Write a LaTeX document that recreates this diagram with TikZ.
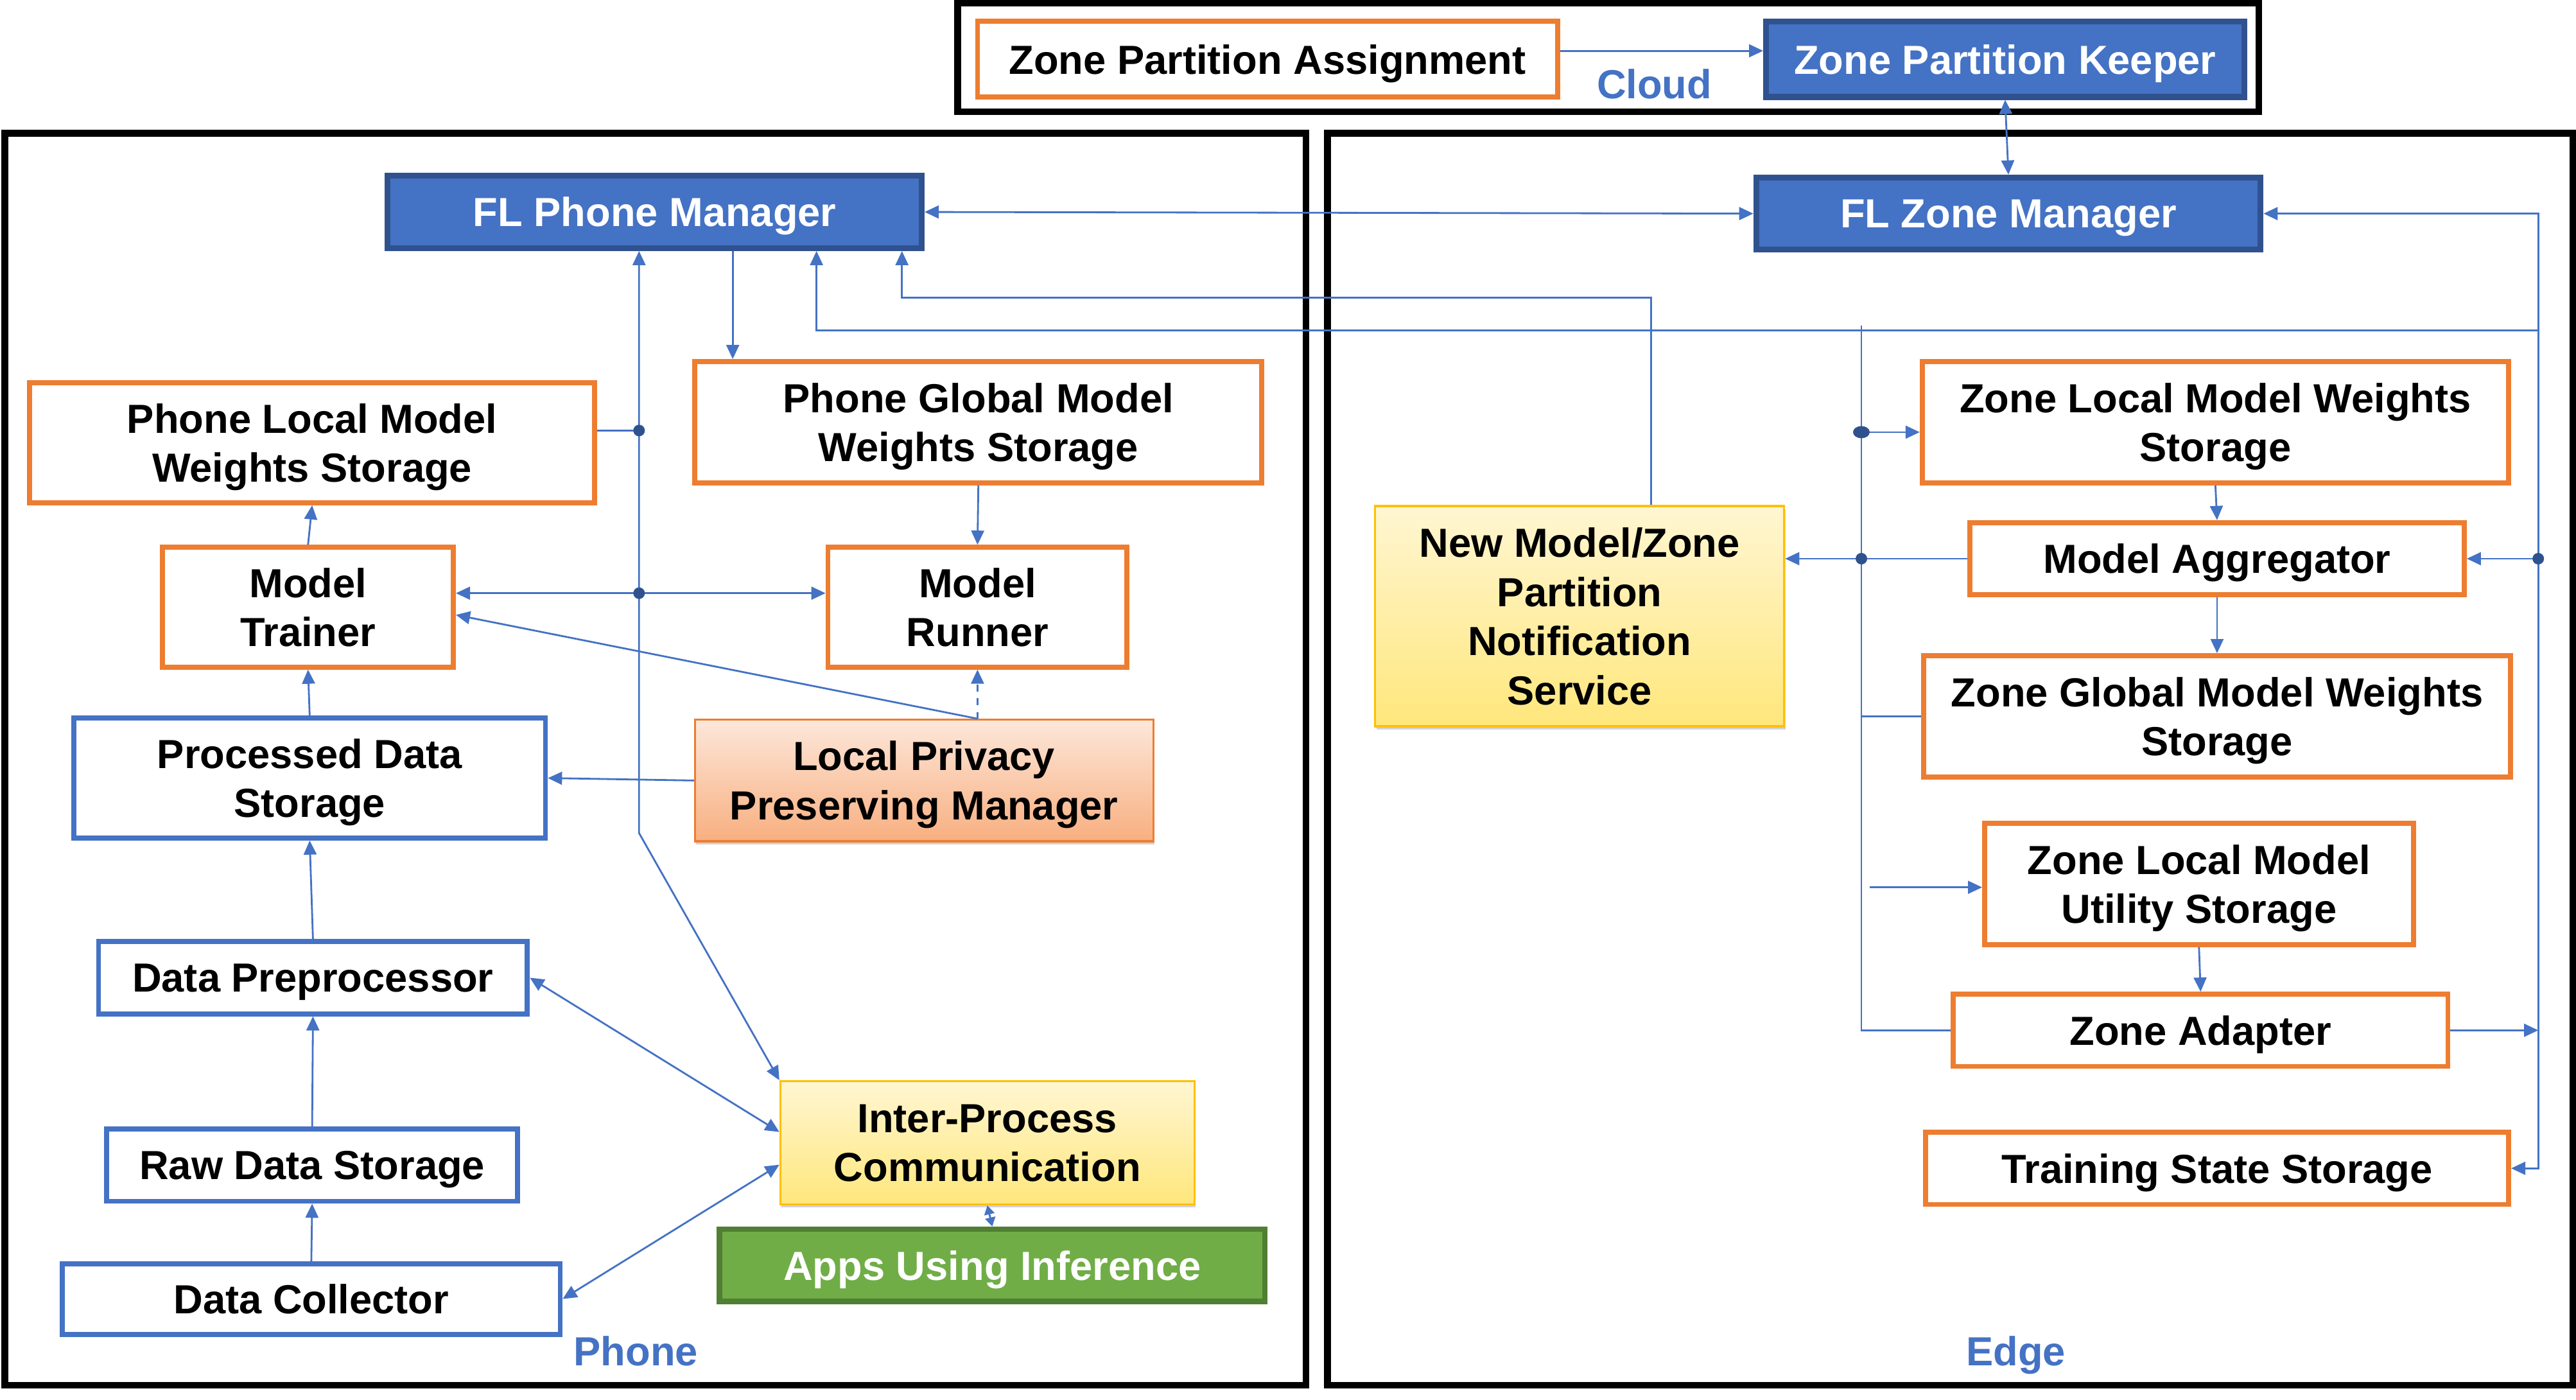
\documentclass[tikz,border=0pt]{standalone}
\usepackage{fontspec}
\setmainfont{Liberation Sans}
\usetikzlibrary{arrows.meta,shadows}
\definecolor{lnblue}{HTML}{4472C4}
\definecolor{dkblue}{HTML}{2F528F}
\definecolor{orng}{HTML}{ED7D31}
\definecolor{gold}{HTML}{FFC000}
\definecolor{grn}{HTML}{70AD47}
\definecolor{dkgrn}{HTML}{507E32}
\definecolor{yltop}{HTML}{FFF6D2}
\definecolor{ylbot}{HTML}{FFE77C}
\definecolor{pchtop}{HTML}{FDE7DA}
\definecolor{pchbot}{HTML}{F8AF80}
\newlength{\pxl}
\setlength{\pxl}{0.25587mm}

\begin{document}
\begin{tikzpicture}[x=\pxl,y=-\pxl,
  box/.style={draw,line width=2.2pt,fill=white,inner sep=0pt,align=center,text depth=0pt,
    font=\fontsize{18}{21.8}\selectfont\bfseries},
  obox/.style={box,draw=orng},
  bbox/.style={box,draw=lnblue},
  mbox/.style={box,fill=lnblue,draw=dkblue,line width=2.6pt,text=white},
  ybox/.style={box,draw=gold,line width=0.9pt,top color=yltop,bottom color=ylbot,
    drop shadow={shadow xshift=.6pt,shadow yshift=-1.4pt,opacity=.35}},
  pbox/.style={box,draw=orng,line width=0.9pt,top color=pchtop,bottom color=pchbot,
    drop shadow={shadow xshift=.6pt,shadow yshift=-1.4pt,opacity=.35}},
  gbox/.style={box,fill=grn,draw=dkgrn,line width=2.4pt,text=white},
  frame/.style={draw=black,line width=3pt},
  lbl/.style={text=lnblue,text depth=0pt,font=\fontsize{18}{21.8}\selectfont\bfseries},
  wire/.style={draw=lnblue,line width=0.8pt},
  link/.style={wire,-{Triangle[length=2.2mm,width=2mm]}},
  link2/.style={wire,{Triangle[length=2.2mm,width=2mm]}-{Triangle[length=2.2mm,width=2mm]}},
  dot/.style={fill=dkblue}]
\useasboundingbox (0,0) rectangle (1568,852);

% frames
\draw[frame] (583,2) rectangle (1375,68);
\draw[frame] (3,81) rectangle (795,843);
\draw[frame] (808,81) rectangle (1566,843);

% cloud
\node[obox,minimum width=353*\pxl,minimum height=46*\pxl] (zpa) at (771.5,36) {Zone Partition Assignment};
\node[mbox,minimum width=291*\pxl,minimum height=46*\pxl] (zpk) at (1220.5,36) {Zone Partition Keeper};
\node[lbl] (cloud) at (1007,51) {Cloud};

% phone
\node[mbox,minimum width=325*\pxl,minimum height=44*\pxl] (flpm) at (398.5,129) {FL Phone Manager};
\node[obox,minimum width=344*\pxl,minimum height=73*\pxl] (plmws) at (190,269.5) {Phone Local Model\\Weights Storage};
\node[obox,minimum width=345*\pxl,minimum height=74*\pxl] (pgmws) at (595.5,257) {Phone Global Model\\Weights Storage};
\node[obox,minimum width=177*\pxl,minimum height=73*\pxl] (mt) at (187.5,369.5) {Model\\Trainer};
\node[obox,minimum width=182*\pxl,minimum height=73*\pxl] (mr) at (595,369.5) {Model\\Runner};
\node[bbox,minimum width=287*\pxl,minimum height=73*\pxl] (pds) at (188.5,473.5) {Processed Data\\Storage};
\node[pbox,minimum width=279*\pxl,minimum height=74*\pxl] (lppm) at (562.5,475) {Local Privacy\\Preserving Manager};
\node[bbox,minimum width=261*\pxl,minimum height=44*\pxl] (dp) at (190.5,595) {Data Preprocessor};
\node[bbox,minimum width=250*\pxl,minimum height=44*\pxl] (rds) at (190,709) {Raw Data Storage};
\node[bbox,minimum width=303*\pxl,minimum height=43*\pxl] (dc) at (189.5,790.5) {Data Collector};
\node[ybox,minimum width=252*\pxl,minimum height=75*\pxl] (ipc) at (601,695.5) {Inter-Process\\Communication};
\node[gbox,minimum width=332*\pxl,minimum height=44*\pxl] (aui) at (604,770) {Apps Using Inference};
\node[lbl] (phone) at (387,822) {Phone};

% edge
\node[mbox,minimum width=307*\pxl,minimum height=44*\pxl] (flzm) at (1222.5,130) {FL Zone Manager};
\node[ybox,minimum width=249*\pxl,minimum height=134*\pxl] (nmz) at (961.5,375) {New Model/Zone\\Partition\\Notification\\Service};
\node[obox,minimum width=357*\pxl,minimum height=74*\pxl] (zlmws) at (1348.5,257) {Zone Local Model Weights\\Storage};
\node[obox,minimum width=301*\pxl,minimum height=44*\pxl] (ma) at (1349.5,340) {Model Aggregator};
\node[obox,minimum width=357*\pxl,minimum height=74*\pxl] (zgmws) at (1349.5,436) {Zone Global Model Weights\\Storage};
\node[obox,minimum width=261*\pxl,minimum height=74*\pxl] (zlmus) at (1338.5,538) {Zone Local Model\\Utility Storage};
\node[obox,minimum width=301*\pxl,minimum height=44*\pxl] (za) at (1339.5,627) {Zone Adapter};
\node[obox,minimum width=355*\pxl,minimum height=44*\pxl] (tss) at (1349.5,711) {Training State Storage};
\node[lbl] (edge) at (1227,822) {Edge};

% bus points
\coordinate (rbus) at (1545,131);
\coordinate (h1) at (497,201);
\coordinate (h2) at (1005,181);
\coordinate (h3) at (549,181);
\coordinate (h4) at (446,181);
\coordinate (pb) at (389,507);
\coordinate (d1) at (389,262);
\coordinate (d2) at (389,361);
\coordinate (eb) at (1133,198);
\coordinate (d3) at (1133,263);
\coordinate (d4) at (1138,540);

% cloud links
\draw[link] ([yshift=1.3mm]zpa.east) -- ([yshift=1.3mm]zpk.west);
\draw[link2] (zpk.south) -- (flzm.north);

% managers
\draw[link2] (flpm.east) -- (flzm.west);
\draw[link2] (flzm.east) -- (flzm.east -| rbus) -- (tss.east -| rbus) -- (tss.east);
\draw[link] (h1 -| rbus) -- (h1) -- (h1 |- flpm.south);
\draw[link] (h2 |- nmz.north) -- (h2) -- (h3) -- (h3 |- flpm.south);
\draw[link] (h4 |- flpm.south) -- (h4 |- pgmws.north);

% phone links
\draw[link2] (ipc.north west) -- (pb) -- (pb |- flpm.south);
\draw[wire] (d1 -| plmws.east) -- (d1);
\fill[dot] (d1) circle (0.9mm);
\draw[link2] (d2 -| mt.east) -- (d2 -| mr.west);
\fill[dot] (d2) circle (0.9mm);
\draw[link] (pgmws.south) -- (mr.north);
\draw[link,dashed] (mr.south |- lppm.north) -- (mr.south);
\draw[link] (mr.south |- lppm.north) -- (mt.-3);
\draw[link] (lppm.west) -- (pds.east);
\draw[link] (mt.north) -- (plmws.south);
\draw[link] (pds.north) -- (mt.south);
\draw[link] (dp.north) -- (pds.south);
\draw[link] (rds.north) -- (dp.south);
\draw[link] (dc.north) -- (rds.south);
\draw[link2] (dp.east) -- (ipc.177);
\draw[link2] (dc.east) -- (ipc.186);
\draw[wire,{Triangle[length=1.4mm,width=1.6mm]}-{Triangle[length=1.4mm,width=1.6mm]}] (ipc.south) -- (aui.north);

% edge links
\draw[wire] (eb) -- (eb |- za.west) -- (za.west);
\draw[link] (d3) -- (d3 -| zlmws.west);
\fill[dot] (d3) ellipse (1.3mm and 0.95mm);
\draw[link] (ma.west) -- (ma.west -| nmz.east);
\fill[dot] (ma.west -| eb) circle (0.9mm);
\draw[wire] (zgmws.west) -- (zgmws.west -| eb);
\draw[link] (d4) -- (d4 -| zlmus.west);
\draw[link] (zlmws.south) -- (ma.north);
\draw[link] (ma.south) -- (zgmws.north);
\draw[link] (zlmus.south) -- (za.north);
\draw[link] (za.east) -- (za.east -| rbus);
\draw[link] (ma.east -| rbus) -- (ma.east);
\fill[dot] (ma.east -| rbus) circle (0.9mm);

\end{tikzpicture}
\end{document}
